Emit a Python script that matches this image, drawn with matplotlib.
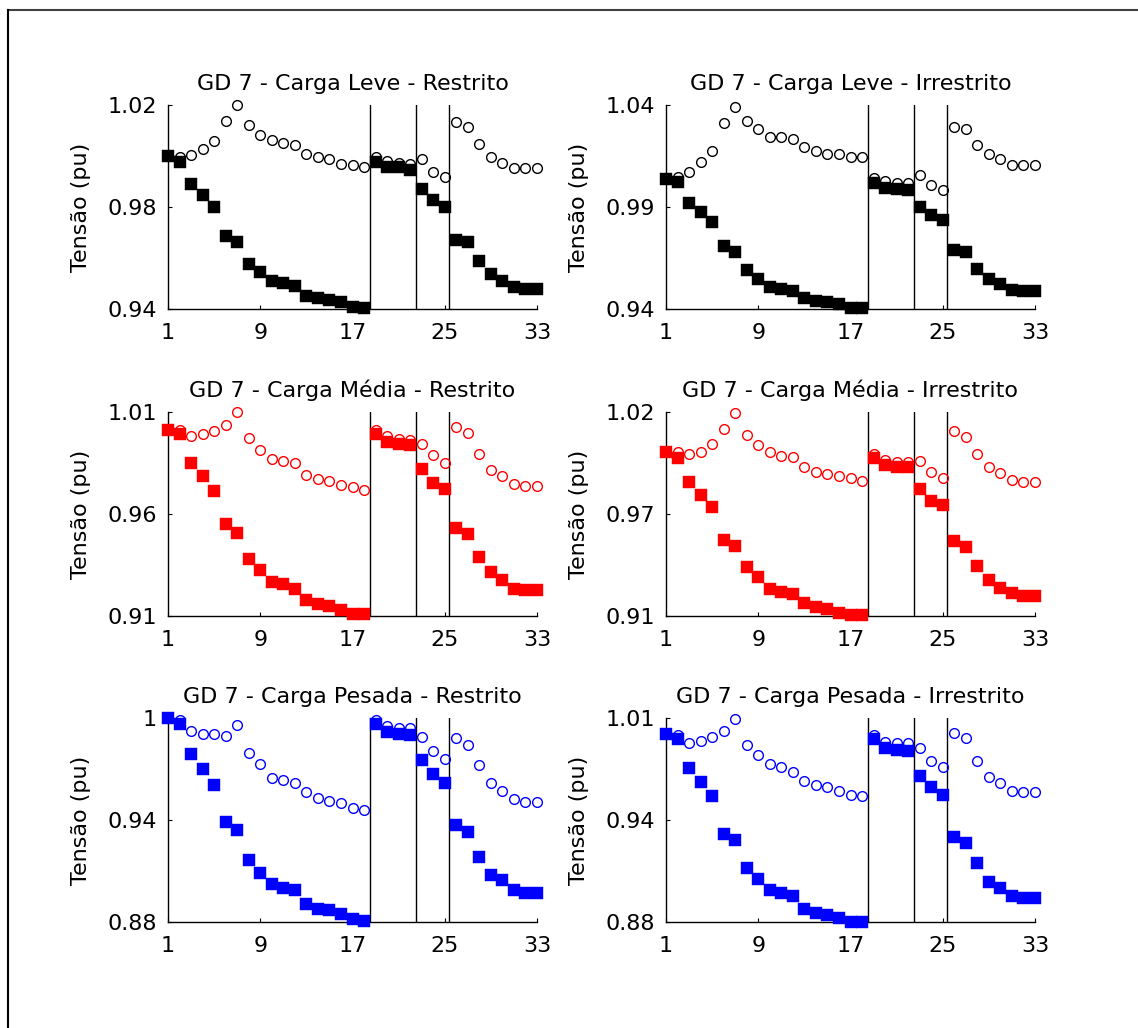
"""Perfis de tensão - GD 7, três níveis de carga, restrito x irrestrito."""

import matplotlib
matplotlib.use("Agg")
import matplotlib.pyplot as plt
from matplotlib.lines import Line2D
import numpy as np

barras = np.arange(1, 34)
xticks = [1, 9, 17, 25, 33]
separadores = [18.5, 22.5, 25.4]  # limites entre ramais

# --- Carga leve ---
leve_restr_sem = [1.000, 0.9978, 0.9889, 0.9846, 0.9800, 0.9686, 0.9662, 0.9577, 0.9544, 0.9511,
                  0.9501, 0.9492, 0.9452, 0.9443, 0.9435, 0.9426, 0.9407, 0.9404,
                  0.9977, 0.9955, 0.9955, 0.9944, 0.9872, 0.9826, 0.9800,
                  0.9669, 0.9662, 0.9590, 0.9538, 0.9511, 0.9485, 0.9479, 0.9479]
leve_restr_com = [1.000, 0.9997, 1.0003, 1.0026, 1.0060, 1.0137, 1.0200, 1.0121, 1.0082, 1.0062,
                  1.0052, 1.0043, 1.0006, 0.9997, 0.9988, 0.9970, 0.9964, 0.9955,
                  0.9998, 0.9980, 0.9974, 0.9970, 0.9988, 0.9938, 0.9918,
                  1.0134, 1.0115, 1.0049, 0.9997, 0.9973, 0.9951, 0.9951, 0.9951]
leve_irr_sem = [1.0039, 1.0023, 0.9920, 0.9875, 0.9826, 0.9711, 0.9679, 0.9589, 0.9548, 0.9510,
                0.9498, 0.9487, 0.9454, 0.9441, 0.9433, 0.9425, 0.9405, 0.9405,
                1.0018, 0.9995, 0.9990, 0.9982, 0.9900, 0.9859, 0.9834,
                0.9690, 0.9679, 0.9597, 0.9548, 0.9523, 0.9493, 0.9487, 0.9487]
leve_irr_com = [1.0039, 1.0048, 1.0072, 1.0121, 1.0175, 1.0313, 1.0392, 1.0321, 1.0280, 1.0244,
                1.0241, 1.0231, 1.0192, 1.0175, 1.0162, 1.0162, 1.0143, 1.0143,
                1.0044, 1.0028, 1.0018, 1.0018, 1.0056, 1.0007, 0.9985,
                1.0293, 1.0280, 1.0203, 1.0159, 1.0133, 1.0105, 1.0105, 1.0105]

# --- Carga média ---
media_restr_sem = [1.0013, 0.9991, 0.9850, 0.9785, 0.9713, 0.9549, 0.9507, 0.9381, 0.9324, 0.9267,
                   0.9258, 0.9234, 0.9177, 0.9160, 0.9147, 0.9131, 0.9108, 0.9108,
                   0.9994, 0.9953, 0.9942, 0.9937, 0.9822, 0.9752, 0.9724,
                   0.9533, 0.9500, 0.9389, 0.9316, 0.9275, 0.9234, 0.9226, 0.9226]
media_restr_com = [1.0013, 1.0010, 0.9981, 0.9994, 1.0005, 1.0035, 1.0100, 0.9974, 0.9915, 0.9871,
                   0.9860, 0.9850, 0.9790, 0.9773, 0.9762, 0.9741, 0.9732, 0.9719,
                   1.0013, 0.9981, 0.9969, 0.9964, 0.9945, 0.9888, 0.9850,
                   1.0026, 0.9997, 0.9896, 0.9817, 0.9785, 0.9749, 0.9736, 0.9736]
media_irr_sem = [0.9983, 0.9950, 0.9820, 0.9751, 0.9690, 0.9512, 0.9480, 0.9364, 0.9310, 0.9245,
                 0.9232, 0.9219, 0.9169, 0.9151, 0.9136, 0.9118, 0.9105, 0.9105,
                 0.9950, 0.9914, 0.9901, 0.9901, 0.9784, 0.9721, 0.9697,
                 0.9503, 0.9473, 0.9371, 0.9295, 0.9250, 0.9223, 0.9209, 0.9209]
media_irr_com = [0.9983, 0.9983, 0.9974, 0.9983, 1.0028, 1.0106, 1.0196, 1.0077, 1.0023, 0.9983,
                 0.9965, 0.9956, 0.9901, 0.9878, 0.9865, 0.9853, 0.9842, 0.9829,
                 0.9974, 0.9943, 0.9929, 0.9929, 0.9938, 0.9878, 0.9842,
                 1.0095, 1.0064, 0.9974, 0.9901, 0.9871, 0.9835, 0.9820, 0.9824]

# --- Carga pesada ---
pesada_restr_sem = [1.000, 0.9965, 0.9788, 0.9701, 0.9607, 0.9386, 0.9341, 0.9164, 0.9091, 0.9026,
                    0.9001, 0.8987, 0.8908, 0.8879, 0.8869, 0.8849, 0.8820, 0.8804,
                    0.9965, 0.9917, 0.9906, 0.9902, 0.9754, 0.9669, 0.9616,
                    0.9370, 0.9331, 0.9184, 0.9079, 0.9046, 0.8987, 0.8973, 0.8973]
pesada_restr_com = [1.000, 0.9990, 0.9921, 0.9906, 0.9906, 0.9896, 0.9957, 0.9793, 0.9728, 0.9650,
                    0.9636, 0.9616, 0.9563, 0.9528, 0.9512, 0.9498, 0.9473, 0.9459,
                    0.9990, 0.9951, 0.9941, 0.9941, 0.9886, 0.9807, 0.9760,
                    0.9882, 0.9843, 0.9725, 0.9616, 0.9571, 0.9524, 0.9508, 0.9508]
pesada_irr_sem = [0.9999, 0.9964, 0.9783, 0.9690, 0.9604, 0.9360, 0.9324, 0.9145, 0.9072, 0.9007,
                  0.8985, 0.8964, 0.8886, 0.8860, 0.8843, 0.8828, 0.8800, 0.8800,
                  0.9964, 0.9906, 0.9895, 0.9891, 0.9733, 0.9658, 0.9611,
                  0.9339, 0.9302, 0.9173, 0.9054, 0.9016, 0.8968, 0.8951, 0.8951]
pesada_irr_com = [0.9999, 0.9992, 0.9938, 0.9956, 0.9981, 1.0020, 1.0094, 0.9928, 0.9863, 0.9805,
                  0.9787, 0.9755, 0.9697, 0.9675, 0.9658, 0.9632, 0.9611, 0.9604,
                  0.9992, 0.9949, 0.9943, 0.9938, 0.9906, 0.9826, 0.9787,
                  1.0003, 0.9971, 0.9826, 0.9727, 0.9684, 0.9636, 0.9626, 0.9626]

titulos = [
    "GD 7 - Carga Leve - Restrito", "GD 7 - Carga Leve - Irrestrito",
    "GD 7 - Carga Média - Restrito", "GD 7 - Carga Média - Irrestrito",
    "GD 7 - Carga Pesada - Restrito", "GD 7 - Carga Pesada - Irrestrito",
]
limites_y = [(0.94, 1.02), (0.94, 1.04), (0.91, 1.01), (0.91, 1.02), (0.88, 1.00), (0.88, 1.01)]
rotulos_y = [
    ["0.94", "0.98", "1.02"], ["0.94", "0.99", "1.04"],
    ["0.91", "0.96", "1.01"], ["0.91", "0.97", "1.02"],
    ["0.88", "0.94", "1"], ["0.88", "0.94", "1.01"],
]
cores = ["k", "k", "#ff0000", "#ff0000", "#0000ff", "#0000ff"]
series_sem = [leve_restr_sem, leve_irr_sem, media_restr_sem, media_irr_sem, pesada_restr_sem, pesada_irr_sem]
series_com = [leve_restr_com, leve_irr_com, media_restr_com, media_irr_com, pesada_restr_com, pesada_irr_com]

W, H = 1138, 1028
fig = plt.figure(figsize=(W / 100, H / 100), dpi=100)

# posição dos eixos em pixels (esquerda, topo, largura, altura)
col_x = [168, 666]
lin_top = [105, 412, 718]
ax_w, ax_h = 369, 204

for i in range(6):
    lin, col = divmod(i, 2)
    left = col_x[col] / W
    bottom = 1 - (lin_top[lin] + ax_h) / H
    ax = fig.add_axes([left, bottom, ax_w / W, ax_h / H])
    cor = cores[i]
    ax.plot(barras, series_com[i], "o", ms=7, mfc="none", mec=cor, mew=1.0, clip_on=False, zorder=3)
    ax.plot(barras, series_sem[i], "s", ms=8.3, mfc=cor, mec=cor, mew=0.3, clip_on=False, zorder=4)
    for xs in separadores:
        ax.axvline(xs, color="k", lw=1.0, zorder=2)
    lo, hi = limites_y[i]
    ax.set_xlim(1, 33)
    ax.set_ylim(lo, hi)
    ax.set_xticks(xticks)
    ax.set_xticklabels([str(t) for t in xticks])
    ax.set_yticks([lo, (lo + hi) / 2, hi])
    ax.set_yticklabels(rotulos_y[i])
    ax.spines[["top", "right"]].set_visible(False)
    ax.spines[["left", "bottom"]].set_linewidth(1.0)
    ax.tick_params(direction="in", length=3, width=0.8, labelsize=16)
    ax.tick_params(axis="y", pad=8)
    ax.tick_params(axis="x", pad=10)
    ax.set_title(titulos[i], fontsize=16, pad=11)
    ax.set_ylabel("Tensão (pu)", fontsize=16)
    ax.yaxis.set_label_coords(-0.21, 0.5)

# moldura (apenas topo e esquerda, como no original)
fig.add_artist(Line2D([8 / W, 1], [1 - 10 / H, 1 - 10 / H], color="#404040", lw=1.5))
fig.add_artist(Line2D([8 / W, 8 / W], [0, 1 - 10 / H], color="k", lw=1.5))

fig.savefig("out.png", dpi=100)
plt.close(fig)
